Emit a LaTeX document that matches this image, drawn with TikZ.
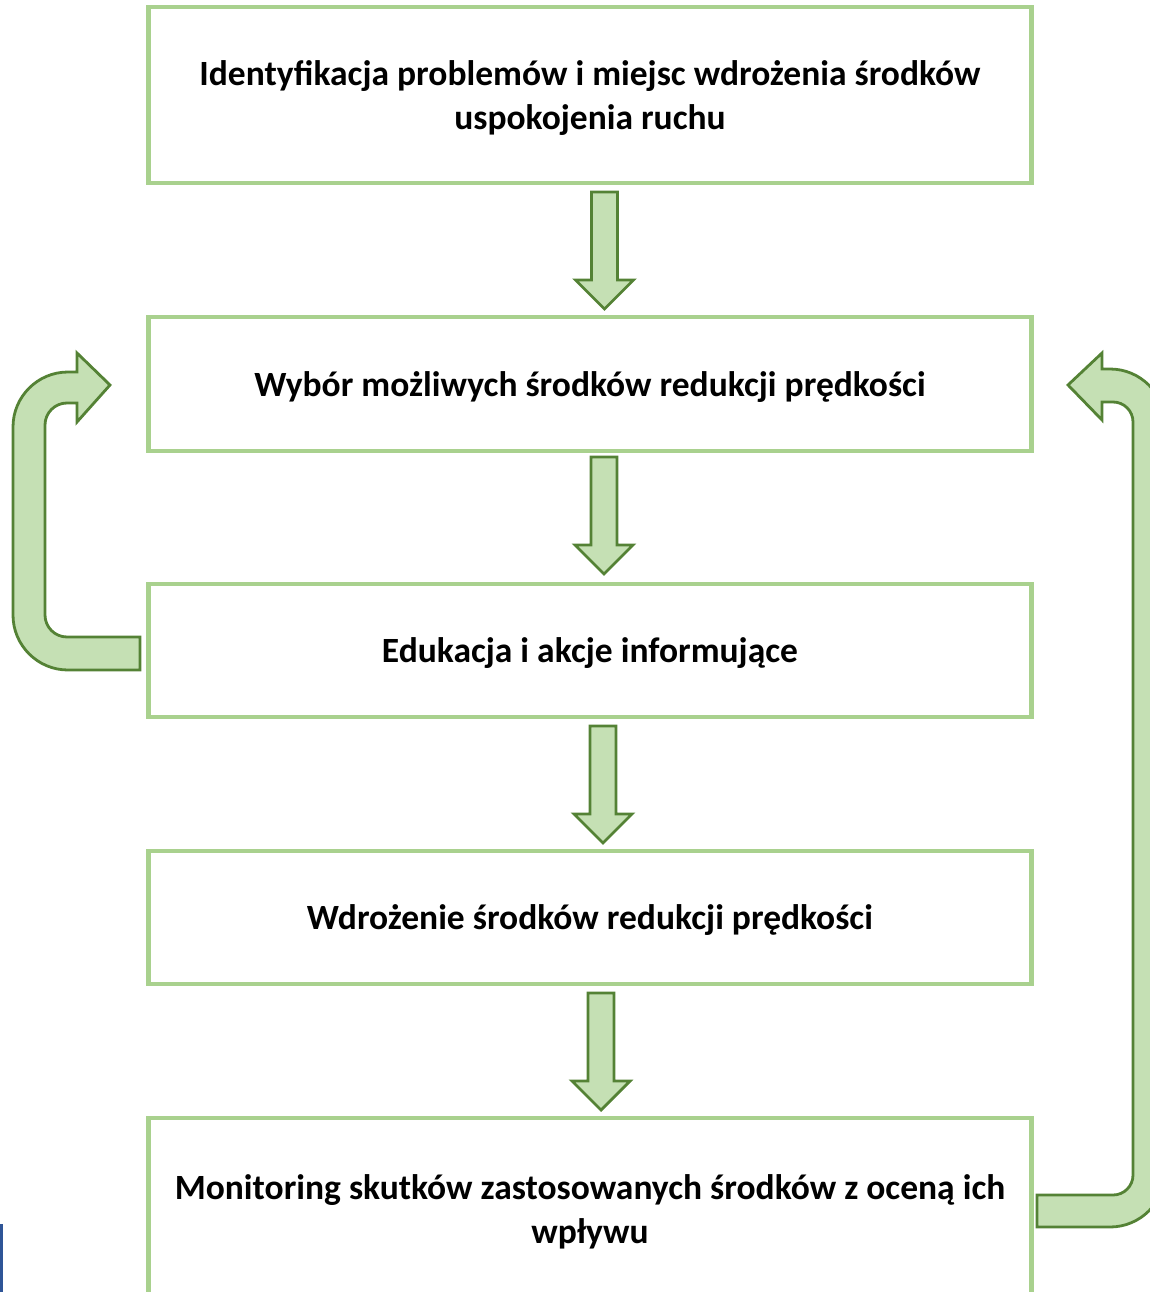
\documentclass[tikz,border=0pt]{standalone}
\usepackage{fontspec}
\setmainfont{Carlito}
\definecolor{boxline}{HTML}{A9D18E}
\definecolor{arrfill}{HTML}{C5E0B4}
\definecolor{arrline}{HTML}{548235}
\definecolor{bluemark}{HTML}{2F5597}
\newcommand{\boxtext}[1]{\raisebox{-3.5pt}[\height][\depth]{\begin{tabular}{@{}c@{}}#1\end{tabular}}}
\tikzset{
  stepbox/.style={draw=boxline, line width=4.5pt, fill=white, minimum width=883pt, inner sep=0pt,
    font=\fontsize{35.5}{44}\selectfont\bfseries},
  barrow/.style={draw=arrline, fill=arrfill, line width=2.8pt, line join=miter},
  downarr/.pic={\draw[barrow] (-13,0) -- (13,0) -- (13,88) -- (29,88) -- (0,117) -- (-29,88) -- (-13,88) -- cycle;}
}
\begin{document}
\begin{tikzpicture}[x=1pt,y=-1pt]
\useasboundingbox (0,0) rectangle (1150,1292);
\clip (0,0) rectangle (1150,1292);
\node[stepbox, minimum height=176pt] (b1) at (590,95) {\boxtext{Identyfikacja problemów i miejsc wdrożenia środków\\uspokojenia ruchu}};
\node[stepbox, minimum height=134pt] (b2) at (590,384) {\boxtext{Wybór możliwych środków redukcji prędkości}};
\node[stepbox, minimum height=133pt] (b3) at (590,650.5) {\boxtext{Edukacja i akcje informujące}};
\node[stepbox, minimum height=133pt] (b4) at (590,917.5) {\boxtext{Wdrożenie środków redukcji prędkości}};
\node[stepbox, minimum height=182pt] (b5) at (590,1209) {\boxtext{Monitoring skutków zastosowanych środków z oceną ich\\wpływu}};
\pic at (604.5,192) {downarr};
\pic at (604,457) {downarr};
\pic at (603,726) {downarr};
\pic at (601,993) {downarr};
% left loop arrow
\draw[barrow] (140,670) -- (68,670) arc[start angle=90, end angle=180, radius=55]
  -- (13,427) arc[start angle=180, end angle=270, radius=55]
  -- (77,372) -- (77,353) -- (110,385) -- (77,422) -- (77,403) -- (67,403)
  arc[start angle=270, end angle=180, radius=22]
  -- (45,615) arc[start angle=180, end angle=90, radius=22]
  -- (140,637) -- cycle;
% right loop arrow
\draw[barrow] (1037,1195) -- (1113,1195) arc[start angle=90, end angle=0, radius=20]
  -- (1133,422) arc[start angle=0, end angle=-90, radius=20]
  -- (1102,402) -- (1102,420) -- (1068,385) -- (1102,353) -- (1102,369) -- (1110,369)
  arc[start angle=-90, end angle=0, radius=55]
  -- (1165,1172) arc[start angle=0, end angle=90, radius=55]
  -- (1037,1227) -- cycle;
\fill[bluemark] (0,1224) rectangle (3,1292);
\end{tikzpicture}
\end{document}
